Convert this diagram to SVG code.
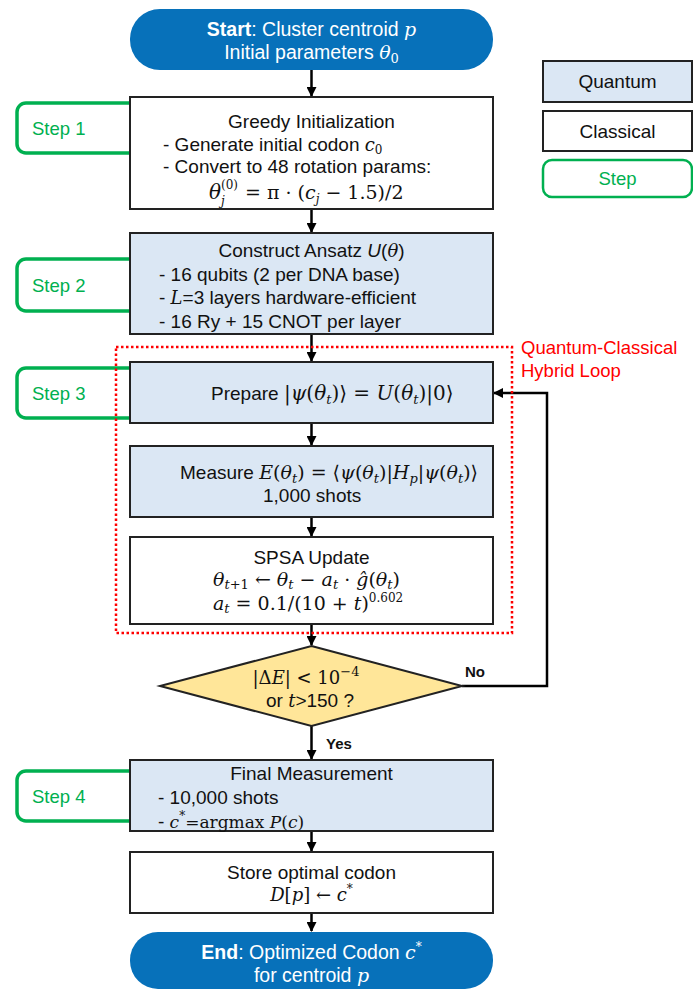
<svg xmlns="http://www.w3.org/2000/svg" width="693" height="990" viewBox="0 0 693 990">
<defs>
<marker id="ah" markerWidth="10" markerHeight="10" refX="9" refY="5" orient="auto" markerUnits="userSpaceOnUse">
<path d="M0,0 L10,5 L0,10 Z" fill="#000"/>
</marker>
<style>
.t{font-family:"Liberation Sans",Arial,sans-serif;font-size:19px;fill:#111}
.w{font-family:"Liberation Sans",Arial,sans-serif;font-size:19.5px;fill:#fff}
.m{font-family:"DejaVu Serif","Liberation Serif",serif;font-size:19px;fill:#111}
.mw{font-family:"DejaVu Serif","Liberation Serif",serif;font-style:italic}
.i{font-style:italic}
.c{text-anchor:middle}
.q{fill:#DBE7F4;stroke:#222;stroke-width:2}
.k{fill:#fff;stroke:#222;stroke-width:2}
.st{fill:#fff;stroke:#00B050;stroke-width:3.5}
.sl{font-family:"Liberation Sans",Arial,sans-serif;font-size:18.5px;fill:#00B050}
.pill{fill:#0771BA}
.cn{fill:none;stroke:#000;stroke-width:2.5}
</style>
</defs>
<rect width="693" height="990" fill="#fff"/>

<!-- Step labels (behind boxes) -->
<g id="step1"><rect class="st" x="17" y="103" width="125" height="50" rx="9"/><text class="sl" x="32" y="135">Step 1</text></g>
<g id="step2"><rect class="st" x="17" y="259" width="125" height="52" rx="9"/><text class="sl" x="32" y="292">Step 2</text></g>
<g id="step3"><rect class="st" x="17" y="368" width="125" height="50" rx="9"/><text class="sl" x="32" y="400">Step 3</text></g>
<g id="step4"><rect class="st" x="17" y="771" width="125" height="50" rx="9"/><text class="sl" x="32" y="803">Step 4</text></g>

<!-- Connectors -->
<g id="connectors">
<line class="cn" x1="311.5" y1="70" x2="311.5" y2="96" marker-end="url(#ah)"/>
<line class="cn" x1="311.5" y1="209" x2="311.5" y2="232" marker-end="url(#ah)"/>
<line class="cn" x1="311.5" y1="334" x2="311.5" y2="361" marker-end="url(#ah)"/>
<line class="cn" x1="311.5" y1="423" x2="311.5" y2="445" marker-end="url(#ah)"/>
<line class="cn" x1="311.5" y1="517" x2="311.5" y2="536" marker-end="url(#ah)"/>
<line class="cn" x1="311.5" y1="624" x2="311.5" y2="645" marker-end="url(#ah)"/>
<line class="cn" x1="311.5" y1="726" x2="311.5" y2="759" marker-end="url(#ah)"/>
<line class="cn" x1="311.5" y1="831" x2="311.5" y2="851" marker-end="url(#ah)"/>
<line class="cn" x1="311.5" y1="913" x2="311.5" y2="931" marker-end="url(#ah)"/>
<polyline class="cn" points="462,686 547,686 547,393 494,393" marker-end="url(#ah)"/>
<text x="465" y="677" font-family="Liberation Sans,Arial,sans-serif" font-size="15" font-weight="bold" fill="#111">No</text>
<text x="326" y="749" font-family="Liberation Sans,Arial,sans-serif" font-size="15" font-weight="bold" fill="#111">Yes</text>
</g>

<!-- Start -->
<g id="start">
<rect class="pill" x="130" y="9" width="363" height="61" rx="30"/>
<text class="w c" x="311.5" y="36"><tspan font-weight="bold">Start</tspan>: Cluster centroid <tspan class="mw" font-size="19">p</tspan></text>
<text class="w c" x="311.5" y="59">Initial parameters <tspan class="mw" font-size="19">θ</tspan><tspan font-family="DejaVu Serif,serif" font-size="13" dy="4">0</tspan></text>
</g>

<!-- Step 1 box -->
<g id="greedy">
<rect class="k" x="130" y="97" width="363" height="112"/>
<text class="t c" x="311.5" y="128">Greedy Initialization</text>
<text class="t" x="163" y="151">- Generate initial codon <tspan class="mw" font-size="18">c</tspan><tspan font-family="DejaVu Serif,serif" font-size="12" dy="3">0</tspan></text>
<text class="t" x="163" y="173">- Convert to 48 rotation params:</text>
<text class="m i" x="209" y="199" style="font-size:20px">θ</text>
<text class="m" x="221" y="189" style="font-size:12px">(0)</text>
<text class="m i" x="221" y="205" style="font-size:12px">j</text>
<text class="m" x="245" y="199">= π · (<tspan class="i">c</tspan><tspan class="i" font-size="12" dy="4">j</tspan><tspan dy="-4"> − 1.5)/2</tspan></text>
</g>

<!-- Step 2 box -->
<g id="ansatz">
<rect class="q" x="130" y="233" width="363" height="101"/>
<text class="t c" x="311.5" y="257">Construct Ansatz <tspan font-style="italic">U</tspan>(<tspan class="mw" font-size="18">θ</tspan>)</text>
<text class="t" x="159" y="281">- 16 qubits (2 per DNA base)</text>
<text class="t" x="159" y="304">- <tspan class="mw" font-size="18">L</tspan>=3 layers hardware-efficient</text>
<text class="t" x="159" y="328">- 16 Ry + 15 CNOT per layer</text>
</g>

<!-- Hybrid loop frame -->
<g id="loop">
<rect x="116" y="347" width="396" height="286" fill="none" stroke="#FF0000" stroke-width="2.5" stroke-dasharray="2.5 2.5"/>
<text x="521" y="354" font-family="Liberation Sans,Arial,sans-serif" font-size="18.5" fill="#FF0000">Quantum-Classical</text>
<text x="521" y="377" font-family="Liberation Sans,Arial,sans-serif" font-size="18.5" fill="#FF0000">Hybrid Loop</text>
</g>

<!-- Prepare -->
<g id="prepare">
<rect class="q" x="130" y="362" width="363" height="61"/>
<text class="t" x="211" y="400">Prepare <tspan class="m" style="font-size:20px">|<tspan class="i">ψ</tspan>(<tspan class="i">θ</tspan><tspan class="i" font-size="13" dy="4">t</tspan><tspan dy="-4">)⟩ = </tspan><tspan class="i">U</tspan>(<tspan class="i">θ</tspan><tspan class="i" font-size="13" dy="4">t</tspan><tspan dy="-4">)|0⟩</tspan></tspan></text>
</g>

<!-- Measure -->
<g id="measure">
<rect class="q" x="130" y="446" width="363" height="71"/>
<text class="t" x="180" y="479">Measure <tspan class="m"><tspan class="i">E</tspan>(<tspan class="i">θ</tspan><tspan class="i" font-size="13" dy="4">t</tspan><tspan dy="-4">) = ⟨</tspan><tspan class="i">ψ</tspan>(<tspan class="i">θ</tspan><tspan class="i" font-size="13" dy="4">t</tspan><tspan dy="-4">)|</tspan><tspan class="i">H</tspan><tspan class="i" font-size="13" dy="4">p</tspan><tspan dy="-4">|</tspan><tspan class="i">ψ</tspan>(<tspan class="i">θ</tspan><tspan class="i" font-size="13" dy="4">t</tspan><tspan dy="-4">)⟩</tspan></tspan></text>
<text class="t" x="263" y="502">1,000 shots</text>
</g>

<!-- SPSA -->
<g id="spsa">
<rect class="k" x="130" y="537" width="363" height="87"/>
<text class="t c" x="311.5" y="564">SPSA Update</text>
<text class="m" x="213" y="586"><tspan class="i">θ</tspan><tspan class="i" font-size="13" dy="3">t</tspan><tspan font-size="13">+1</tspan><tspan dy="-3"> ← </tspan><tspan class="i">θ</tspan><tspan class="i" font-size="13" dy="3">t</tspan><tspan dy="-3"> − </tspan><tspan class="i">a</tspan><tspan class="i" font-size="13" dy="3">t</tspan><tspan dy="-3"> · </tspan><tspan class="i">ĝ</tspan>(<tspan class="i">θ</tspan><tspan class="i" font-size="13" dy="3">t</tspan><tspan dy="-3">)</tspan></text>
<text class="m" x="213" y="610"><tspan class="i">a</tspan><tspan class="i" font-size="13" dy="3">t</tspan><tspan dy="-3"> = 0.1/(10 + </tspan><tspan class="i">t</tspan>)<tspan font-size="12" dy="-8">0.602</tspan></text>
</g>

<!-- Decision -->
<g id="decision">
<polygon points="311.5,646 462,686 311.5,726 160,686" fill="#FFE699" stroke="#222" stroke-width="2"/>
<text class="m c" x="306" y="684" style="font-size:18px">|Δ<tspan class="i">E</tspan>| &lt; 10<tspan font-size="13" dy="-8">−4</tspan></text>
<text class="t c" x="310" y="707">or <tspan class="mw" font-size="18">t</tspan>&gt;150 ?</text>
</g>

<!-- Final Measurement -->
<g id="final">
<rect class="q" x="130" y="760" width="363" height="71"/>
<text class="t c" x="311.5" y="780">Final Measurement</text>
<text class="t" x="158" y="804">- 10,000 shots</text>
<text class="t" x="158" y="828">- <tspan class="m" style="font-size:17px"><tspan class="i">c</tspan><tspan font-size="12" dy="-8">*</tspan><tspan dy="8">=argmax </tspan><tspan class="i">P</tspan>(<tspan class="i">c</tspan>)</tspan></text>
</g>

<!-- Store -->
<g id="store">
<rect class="k" x="130" y="852" width="363" height="61"/>
<text class="t c" x="311.5" y="879">Store optimal codon</text>
<text class="m c" x="311.5" y="901" style="font-size:18px"><tspan class="i">D</tspan>[<tspan class="i">p</tspan>] ← <tspan class="i">c</tspan><tspan font-size="12" dy="-8">*</tspan></text>
</g>

<!-- End -->
<g id="end">
<rect class="pill" x="130" y="932" width="363" height="57" rx="28"/>
<text class="w c" x="311.5" y="959"><tspan font-weight="bold">End</tspan>: Optimized Codon <tspan class="mw" font-size="19">c</tspan><tspan font-family="DejaVu Serif,serif" font-size="12" dy="-8">*</tspan></text>
<text class="w c" x="311.5" y="982">for centroid <tspan class="mw" font-size="19">p</tspan></text>
</g>

<!-- Legend -->
<g id="legend-quantum"><rect class="q" x="543" y="61" width="149" height="41" stroke-width="2.5"/><text class="t c" x="617.5" y="88">Quantum</text></g>
<g id="legend-classical"><rect class="k" x="543" y="111" width="149" height="40" stroke-width="2.5"/><text class="t c" x="617.5" y="138">Classical</text></g>
<g id="legend-step"><rect x="543" y="160" width="149" height="37" rx="9" fill="#fff" stroke="#00B050" stroke-width="2.5"/><text class="sl c" x="617.5" y="185">Step</text></g>
</svg>
